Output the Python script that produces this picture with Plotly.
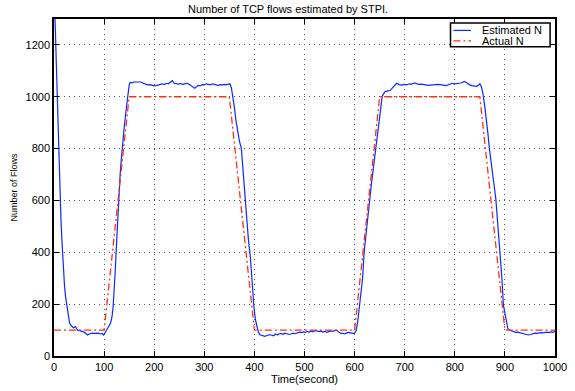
import plotly.graph_objects as go

# Estimated number of flows (STPI output), time in seconds
time_est = [
    0, 1, 2, 3, 4, 5, 6, 7, 8, 9, 10, 11, 12, 14, 16, 17, 19, 21, 23, 25, 27, 29, 31, 33, 35,
    37, 39, 41, 43, 45, 47, 50, 53, 57, 60, 63, 67, 70, 73, 77, 80, 83, 86, 89, 93, 96, 99,
    102, 106, 109, 112, 114, 116, 118, 119, 121, 122, 125, 128, 130, 132, 134, 136, 140, 144,
    147, 149, 150, 152, 156, 160, 165, 170, 174, 178, 182, 187, 192, 196, 200, 204, 208, 212,
    216, 220, 224, 228, 232, 236, 240, 244, 249, 253, 257, 261, 265, 269, 273, 277, 281, 285,
    288, 292, 296, 300, 304, 308, 312, 316, 320, 324, 328, 332, 336, 340, 343, 347, 351, 354,
    356, 360, 363, 366, 370, 374, 378, 380, 384, 388, 392, 396, 399, 402, 405, 408, 411, 414,
    418, 421, 425, 429, 434, 438, 442, 446, 450, 453, 457, 461, 465, 469, 473, 477, 481, 486,
    490, 494, 498, 502, 505, 509, 513, 517, 521, 525, 529, 533, 537, 541, 544, 548, 552, 556,
    560, 564, 568, 572, 576, 580, 584, 588, 592, 596, 600, 603, 606, 609, 612, 616, 619, 622,
    626, 630, 634, 638, 642, 646, 650, 655, 658, 661, 666, 671, 676, 680, 684, 689, 694, 699,
    704, 709, 713, 717, 721, 725, 729, 733, 737, 742, 747, 752, 757, 762, 767, 772, 776, 781,
    785, 790, 795, 800, 804, 808, 812, 816, 819, 823, 826, 830, 834, 838, 843, 847, 850, 853,
    856, 860, 863, 866, 869, 872, 875, 879, 882, 886, 891, 894, 897, 900, 903, 906, 909, 912,
    916, 921, 925, 929, 934, 938, 942, 947, 951, 955, 960, 964, 968, 972, 976, 980, 984, 988,
    992, 996, 1000,
]
est_n = [
    1420, 1380, 1300, 1240, 1170, 1100, 1050, 1000, 900, 800, 730, 660, 600, 520, 440, 400, 330,
    270, 230, 200, 165, 145, 128, 120, 115, 110, 108, 112, 113, 106, 100, 99, 97, 95, 92, 88, 81,
    85, 87, 88, 87, 87, 89, 88, 85, 87, 81,
    90, 104, 115, 123, 135, 155, 190, 219, 280, 320, 440, 580, 640, 700, 750, 800, 880, 950,
    1000, 1030, 1045, 1055, 1054, 1057, 1056, 1055, 1057, 1052, 1048, 1046, 1047, 1044, 1042,
    1043, 1046, 1048, 1050, 1047, 1052, 1050, 1055, 1062, 1052, 1050, 1049, 1051, 1048, 1050,
    1052, 1049, 1044, 1038, 1033, 1040, 1044, 1042, 1047, 1046, 1050, 1048, 1046, 1050, 1047,
    1046, 1044, 1047, 1046, 1048, 1046, 1048, 1050, 1035,
    1014, 960, 911, 870, 830, 800, 700, 620, 520, 450, 380, 260, 190, 140, 110, 92, 82, 80,
    78, 76, 79, 82, 81, 78, 84, 82, 86, 87, 84, 88, 86, 83, 85, 88, 86, 88,
    92, 90, 93, 91, 95, 92, 96, 93, 98, 97, 94, 96, 92, 95, 91, 94, 97, 95,
    98, 100, 93, 88, 87, 85, 89, 91, 89, 87, 88, 97, 130, 175, 240, 300, 400, 460,
    530, 600, 670, 740, 800, 860, 920, 1001, 1012, 1020, 1023, 1024, 1035, 1045, 1052, 1047,
    1045, 1048, 1046, 1050, 1048, 1052, 1053, 1050, 1048, 1049, 1047, 1046, 1044, 1045, 1047,
    1046, 1048, 1047, 1045, 1043, 1045, 1049, 1052, 1050, 1051, 1050, 1053, 1056, 1059, 1055,
    1050, 1046, 1043, 1041, 1040, 1044, 1050, 1040,
    1014, 960, 918, 860, 800, 760, 710, 650, 604, 510, 399, 300, 196, 160, 125, 105, 100, 97,
    95, 91, 92, 90, 88, 87, 84, 81, 83, 86, 88, 87, 89, 90, 89, 91, 92, 90,
    93, 92, 94,
]

# Actual number of flows
time_act = [0, 100, 150, 350, 400, 600, 650, 850, 900, 1000]
act_n = [100, 100, 1000, 1000, 100, 100, 1000, 1000, 100, 100]

x_ticks = list(range(0, 1001, 100))
y_ticks = list(range(0, 1201, 200))

BLUE = "#0a2aff"
RED = "#ff3010"
FONT = "Liberation Sans, Arial, Helvetica, sans-serif"

# plot-area geometry (pixels) used to place the hand-drawn legend box
L, R, T, B = 54, 567, 19, 358
W, H = 575, 391


def px_x(p):
    return (p - L) / (R - L)


def px_y(p):
    return (B - p) / (B - T)


fig = go.Figure()
fig.add_trace(go.Scatter(x=time_est, y=est_n, mode="lines",
                         line=dict(color=BLUE, width=1.2), name="Estimated N",
                         showlegend=False))
fig.add_trace(go.Scatter(x=time_act, y=act_n, mode="lines",
                         line=dict(color=RED, width=1.3, dash="7px,3px,2px,3px"),
                         name="Actual N", showlegend=False))

axis_common = dict(
    showline=True, linecolor="black", linewidth=1.5, mirror="ticks",
    ticks="inside", ticklen=5, tickwidth=1, tickcolor="black",
    showgrid=True, gridcolor="#555555", gridwidth=1, griddash="1px,4px",
    zeroline=False, tickfont=dict(family=FONT, size=11, color="black"),
    ticklabeloverflow="allow",
)

fig.update_xaxes(range=[0, 1000], tickvals=x_ticks,
                 title=dict(text="Time(second)", font=dict(family=FONT, size=11, color="black"),
                            standoff=2),
                 **axis_common)
fig.update_yaxes(range=[0, 1300], tickvals=y_ticks,
                 title=dict(text="Number of Flows", font=dict(family=FONT, size=9, color="black"),
                            standoff=6),
                 **axis_common)

# legend box
shapes = [
    dict(type="rect", xref="paper", yref="paper",
         x0=px_x(460), x1=px_x(562), y0=px_y(47), y1=px_y(23),
         line=dict(color="black", width=1.5), fillcolor="white", layer="above"),
    dict(type="line", xref="paper", yref="paper",
         x0=px_x(463), x1=px_x(481), y0=px_y(30.5), y1=px_y(30.5),
         line=dict(color=BLUE, width=1.2), layer="above"),
    dict(type="line", xref="paper", yref="paper",
         x0=px_x(463), x1=px_x(481), y0=px_y(41), y1=px_y(41),
         line=dict(color=RED, width=1.3, dash="7px,3px,2px,3px"), layer="above"),
]
annotations = [
    dict(text="Estimated N", xref="paper", yref="paper", x=px_x(490), y=px_y(30.5),
         xanchor="left", yanchor="middle", showarrow=False,
         font=dict(family=FONT, size=11, color="black")),
    dict(text="Actual N", xref="paper", yref="paper", x=px_x(490), y=px_y(41),
         xanchor="left", yanchor="middle", showarrow=False,
         font=dict(family=FONT, size=11, color="black")),
]

fig.update_layout(
    width=W, height=H,
    margin=dict(l=L, r=W - R, t=T, b=H - B),
    paper_bgcolor="white", plot_bgcolor="white",
    title=dict(text="Number of TCP flows estimated by STPI.",
               font=dict(family=FONT, size=11, color="black"),
               x=px_x(311), xanchor="center", y=1 - 9 / H, yanchor="middle"),
    shapes=shapes, annotations=annotations, showlegend=False,
)

fig.write_html("out.html")
